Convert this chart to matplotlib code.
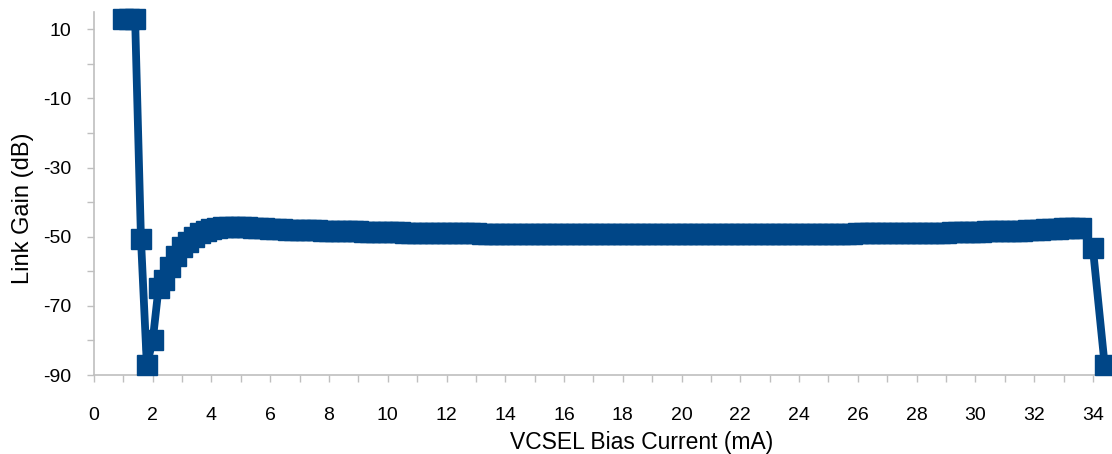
import matplotlib
matplotlib.use('Agg')
import matplotlib.pyplot as plt
from matplotlib.ticker import MultipleLocator

# bias sweep (mA) and measured link gain (dB)
bias_ma = [
    1.0, 1.2, 1.4, 1.6, 1.8, 2.0, 2.2, 2.4, 2.6, 2.8,
    3.0, 3.2, 3.4, 3.6, 3.8, 4.0, 4.2, 4.4, 4.6, 4.8,
    5.0, 5.2, 5.4, 5.6, 5.8, 6.0, 6.2, 6.4, 6.6, 6.8,
    7.0, 7.2, 7.4, 7.6, 7.8, 8.0, 8.2, 8.4, 8.6, 8.8,
    9.0, 9.2, 9.4, 9.6, 9.8, 10.0, 10.2, 10.4, 10.6, 10.8,
    11.0, 11.2, 11.4, 11.6, 11.8, 12.0, 12.2, 12.4, 12.6, 12.8,
    13.0, 13.2, 13.4, 13.6, 13.8, 14.0, 14.2, 14.4, 14.6, 14.8,
    15.0, 15.2, 15.4, 15.6, 15.8, 16.0, 16.2, 16.4, 16.6, 16.8,
    17.0, 17.2, 17.4, 17.6, 17.8, 18.0, 18.2, 18.4, 18.6, 18.8,
    19.0, 19.2, 19.4, 19.6, 19.8, 20.0, 20.2, 20.4, 20.6, 20.8,
    21.0, 21.2, 21.4, 21.6, 21.8, 22.0, 22.2, 22.4, 22.6, 22.8,
    23.0, 23.2, 23.4, 23.6, 23.8, 24.0, 24.2, 24.4, 24.6, 24.8,
    25.0, 25.2, 25.4, 25.6, 25.8, 26.0, 26.2, 26.4, 26.6, 26.8,
    27.0, 27.2, 27.4, 27.6, 27.8, 28.0, 28.2, 28.4, 28.6, 28.8,
    29.0, 29.2, 29.4, 29.6, 29.8, 30.0, 30.2, 30.4, 30.6, 30.8,
    31.0, 31.2, 31.4, 31.6, 31.8, 32.0, 32.2, 32.4, 32.6, 32.8,
    33.0, 33.2, 33.4, 33.6, 34.0, 34.4,
]
link_gain_db = [
    13.0, 13.0, 13.0, -50.7, -87.1, -80.0, -64.7, -62.5, -58.7, -55.6,
    -53.1, -51.5, -50.0, -49.0, -48.3, -47.8, -47.5, -47.3, -47.2, -47.2,
    -47.2, -47.3, -47.4, -47.5, -47.6, -47.7, -47.8, -47.9, -48.0, -48.0,
    -48.1, -48.1, -48.2, -48.2, -48.3, -48.3, -48.4, -48.4, -48.5, -48.5,
    -48.5, -48.6, -48.6, -48.6, -48.7, -48.7, -48.7, -48.7, -48.8, -48.8,
    -48.8, -48.8, -48.9, -48.9, -48.9, -48.9, -49.0, -49.0, -49.0, -49.0,
    -49.0, -49.1, -49.1, -49.1, -49.1, -49.1, -49.2, -49.2, -49.2, -49.2,
    -49.2, -49.2, -49.2, -49.2, -49.2, -49.2, -49.3, -49.3, -49.3, -49.3,
    -49.3, -49.3, -49.3, -49.3, -49.3, -49.3, -49.3, -49.3, -49.3, -49.3,
    -49.3, -49.3, -49.3, -49.3, -49.3, -49.3, -49.3, -49.3, -49.3, -49.3,
    -49.3, -49.3, -49.3, -49.3, -49.3, -49.3, -49.3, -49.3, -49.2, -49.2,
    -49.2, -49.2, -49.2, -49.2, -49.2, -49.2, -49.2, -49.2, -49.2, -49.2,
    -49.1, -49.1, -49.1, -49.1, -49.1, -49.0, -49.0, -49.0, -49.0, -49.0,
    -49.0, -48.9, -48.9, -48.9, -48.9, -48.9, -48.8, -48.8, -48.8, -48.8,
    -48.8, -48.7, -48.7, -48.7, -48.6, -48.6, -48.6, -48.5, -48.5, -48.5,
    -48.4, -48.4, -48.3, -48.3, -48.2, -48.1, -48.0, -47.9, -47.8, -47.7,
    -47.6, -47.5, -47.5, -47.6, -53.4, -87.1,
]

plt.rcParams['font.family'] = ['Liberation Sans', 'DejaVu Sans']
plt.rcParams['axes.unicode_minus'] = False

fig = plt.figure(figsize=(11.12, 4.54), dpi=100)
ax = fig.add_axes([0.0845, 0.174, 0.9155, 0.799])

blue = '#004687'
ax.plot(bias_ma, link_gain_db, color=blue, lw=5.6, marker='s', ms=14.4,
        mec=blue, mfc=blue, solid_joinstyle='round', clip_on=False, zorder=3)

ax.set_xlim(0, 34.65)
ax.set_ylim(-90, 14.9)
ax.xaxis.set_major_locator(MultipleLocator(2))
ax.xaxis.set_minor_locator(MultipleLocator(1))
ax.set_yticks([-90, -70, -50, -30, -10, 10])
ax.set_yticks([-80, -60, -40, -20, 0], minor=True)

for side in ['top', 'right']:
    ax.spines[side].set_visible(False)
for side in ['left', 'bottom']:
    ax.spines[side].set_color('#bfbfbf')
    ax.spines[side].set_linewidth(1.2)

ax.tick_params(which='both', length=5, width=1, color='#bfbfbf', labelsize=14)
ax.tick_params(axis='x', which='major', pad=18)
ax.tick_params(axis='y', which='major', pad=11)

# the original chart is cropped on the right, so the axis titles sit off-centre
fig.text(0.577, 0.012, 'VCSEL Bias Current (mA)', fontsize=16.5,
         ha='center', va='baseline')
fig.text(0.021, 0.542, 'Link Gain (dB)', fontsize=17, rotation=90,
         ha='center', va='center')

fig.savefig('out.png', dpi=100)
